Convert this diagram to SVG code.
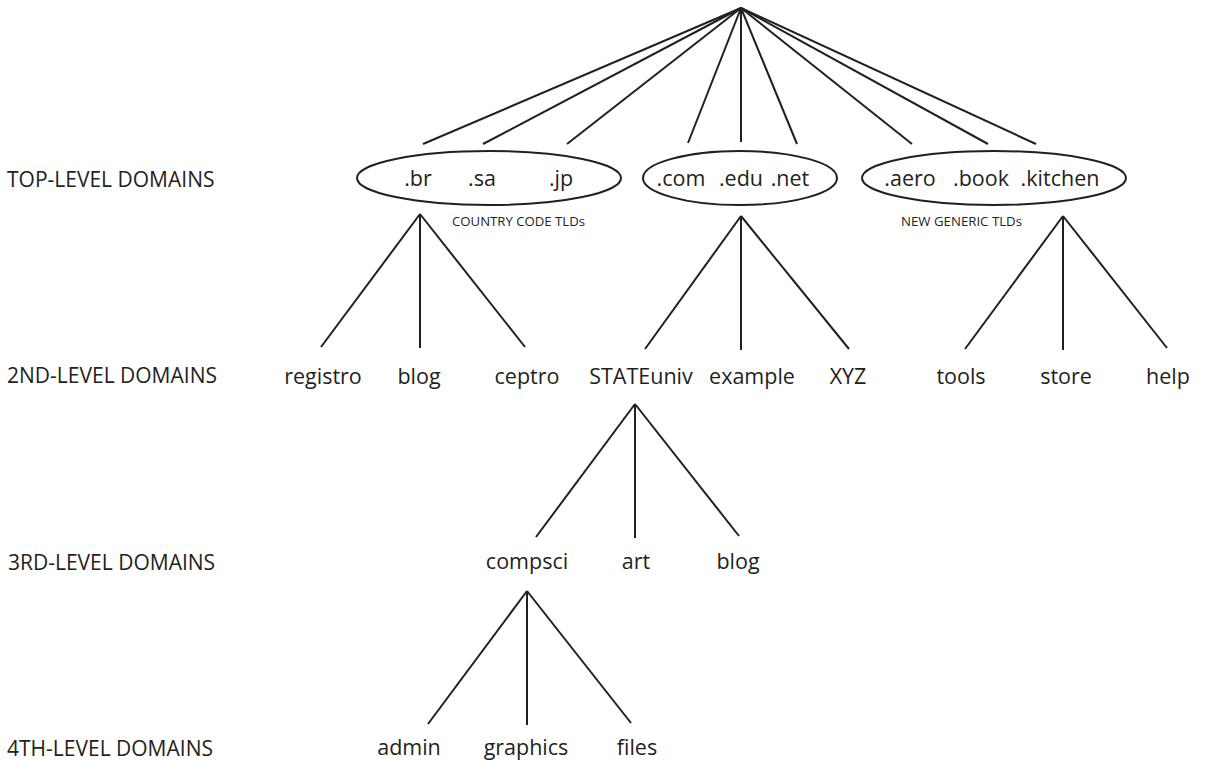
<svg xmlns="http://www.w3.org/2000/svg" width="1211" height="761" viewBox="0 0 1211 761">
<style>
  text { font-family: "Open Sans", "Liberation Sans", sans-serif; fill: #231f20; }
  .lvl { font-size: 21px; }
  .node { font-size: 21.5px; text-anchor: middle; }
  .small { font-size: 12.5px; }
  .edge { stroke: #231f20; stroke-width: 2; fill: none; stroke-linecap: butt; }
  .tld { stroke: #231f20; stroke-width: 2; fill: #ffffff; }
</style>
<rect width="1211" height="761" fill="#ffffff"/>

<g id="connectors">
  <line class="edge" x1="741" y1="8" x2="423" y2="144"/>
  <line class="edge" x1="741" y1="8" x2="483" y2="144"/>
  <line class="edge" x1="741" y1="8" x2="567" y2="144"/>
  <line class="edge" x1="741" y1="8" x2="688" y2="143"/>
  <line class="edge" x1="741" y1="8" x2="741" y2="142"/>
  <line class="edge" x1="741" y1="8" x2="797" y2="144"/>
  <line class="edge" x1="741" y1="8" x2="912" y2="144"/>
  <line class="edge" x1="741" y1="8" x2="988" y2="144"/>
  <line class="edge" x1="741" y1="8" x2="1036" y2="144"/>

  <line class="edge" x1="420" y1="214" x2="321" y2="347"/>
  <line class="edge" x1="420" y1="214" x2="420" y2="348"/>
  <line class="edge" x1="420" y1="214" x2="525" y2="347"/>

  <line class="edge" x1="741" y1="216" x2="645" y2="349"/>
  <line class="edge" x1="741" y1="216" x2="741" y2="350"/>
  <line class="edge" x1="741" y1="216" x2="849" y2="349"/>

  <line class="edge" x1="1063" y1="216" x2="965" y2="349"/>
  <line class="edge" x1="1063" y1="216" x2="1063" y2="350"/>
  <line class="edge" x1="1063" y1="216" x2="1167" y2="348"/>

  <line class="edge" x1="635" y1="404" x2="536" y2="537"/>
  <line class="edge" x1="635" y1="404" x2="635" y2="538"/>
  <line class="edge" x1="635" y1="404" x2="739" y2="536"/>

  <line class="edge" x1="527" y1="591" x2="428" y2="724"/>
  <line class="edge" x1="527" y1="591" x2="527" y2="725"/>
  <line class="edge" x1="527" y1="591" x2="631" y2="723"/>
</g>

<g id="levels">
  <text class="lvl" x="7" y="187">TOP-LEVEL DOMAINS</text>
  <text class="lvl" x="7" y="383">2ND-LEVEL DOMAINS</text>
  <text class="lvl" x="8" y="570">3RD-LEVEL DOMAINS</text>
  <text class="lvl" x="7" y="756">4TH-LEVEL DOMAINS</text>
</g>

<g id="tld-country">
  <ellipse class="tld" cx="489" cy="178" rx="132" ry="27"/>
  <text class="node" x="418" y="186">.br</text>
  <text class="node" x="482" y="186">.sa</text>
  <text class="node" x="561" y="186">.jp</text>
  <text class="small" x="452" y="226" textLength="133" lengthAdjust="spacingAndGlyphs">COUNTRY CODE TLDs</text>
</g>

<g id="tld-generic">
  <ellipse class="tld" cx="740" cy="178" rx="97" ry="27"/>
  <text class="node" x="681" y="186">.com</text>
  <text class="node" x="741" y="186">.edu</text>
  <text class="node" x="790" y="186">.net</text>
</g>

<g id="tld-new">
  <ellipse class="tld" cx="994" cy="178" rx="132" ry="27"/>
  <text class="node" x="910" y="186">.aero</text>
  <text class="node" x="981" y="186">.book</text>
  <text class="node" x="1060" y="186">.kitchen</text>
  <text class="small" x="901" y="226" textLength="121" lengthAdjust="spacingAndGlyphs">NEW GENERIC TLDs</text>
</g>

<g id="n-registro"><text class="node" x="323" y="384">registro</text></g>
<g id="n-blog2"><text class="node" x="419" y="384">blog</text></g>
<g id="n-ceptro"><text class="node" x="527" y="384">ceptro</text></g>
<g id="n-stateuniv"><text class="node" x="641" y="384">STATEuniv</text></g>
<g id="n-example"><text class="node" x="752" y="384">example</text></g>
<g id="n-xyz"><text class="node" x="848" y="384">XYZ</text></g>
<g id="n-tools"><text class="node" x="961" y="384">tools</text></g>
<g id="n-store"><text class="node" x="1066" y="384">store</text></g>
<g id="n-help"><text class="node" x="1168" y="384">help</text></g>

<g id="n-compsci"><text class="node" x="527" y="569">compsci</text></g>
<g id="n-art"><text class="node" x="636" y="569">art</text></g>
<g id="n-blog3"><text class="node" x="738" y="569">blog</text></g>

<g id="n-admin"><text class="node" x="409" y="755">admin</text></g>
<g id="n-graphics"><text class="node" x="526" y="755">graphics</text></g>
<g id="n-files"><text class="node" x="637" y="755">files</text></g>
</svg>
